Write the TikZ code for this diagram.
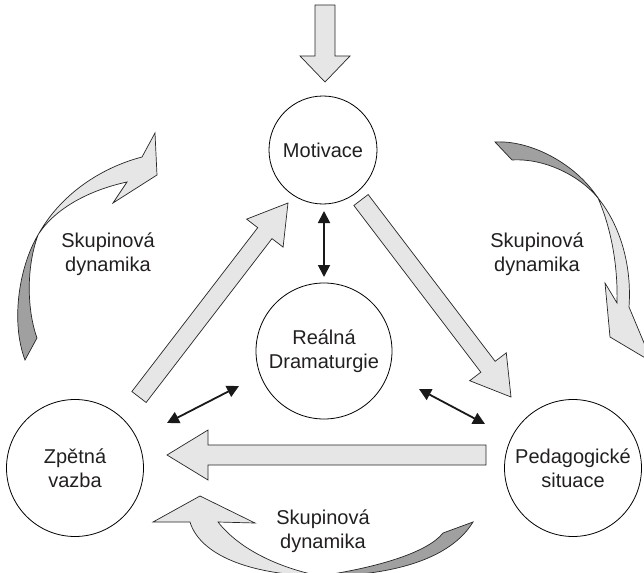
\documentclass[tikz,border=0pt]{standalone}
\usepackage{fontspec}
\setmainfont{Liberation Sans}
\usetikzlibrary{arrows.meta,calc,positioning}

\definecolor{arrowfill}{HTML}{E6E6E6}
\definecolor{backfill}{HTML}{A0A0A0}
\definecolor{txtgray}{HTML}{231F20}

\tikzset{
  phase/.style={circle,draw,line width=0.8pt,inner sep=0pt,text=txtgray,
    align=center,font=\fontsize{20}{24}\selectfont},
  grouptext/.style={text=txtgray,align=center,font=\fontsize{20}{24}\selectfont},
  blockarrow/.style={fill=arrowfill,draw=black!85,line width=0.7pt},
  ribbon/.style={fill=arrowfill,draw=black!85,line width=0.7pt},
  ribbonback/.style={fill=backfill,draw=black!85,line width=0.7pt},
  twoway/.style={{Triangle[length=12pt,width=12pt]}-{Triangle[length=12pt,width=12pt]},
    line width=1.8pt,black!90},
}

% block arrow: tail, tip, half shaft width, half head width, head length
\newcommand{\blockarrow}[5]{%
  \coordinate (ba-base) at ($(#2)!#5!(#1)$);
  \filldraw[blockarrow]
    ($(#1)!#3!90:(#2)$) -- ($(ba-base)!#3!90:(#2)$) -- ($(ba-base)!#4!90:(#2)$) -- (#2)
    -- ($(ba-base)!#4!-90:(#2)$) -- ($(ba-base)!#3!-90:(#2)$) -- ($(#1)!#3!-90:(#2)$) -- cycle;
}

\begin{document}
\begin{tikzpicture}[x=1pt,y=-1pt]
  \useasboundingbox (0,0) rectangle (644,572);
  \clip (0,0) rectangle (644,572);

  % curved group dynamics arrows
  \filldraw[ribbonback] (38,235) .. controls (20,265) and (10,320) .. (25,360)
    -- (37,338) .. controls (27,310) and (26,268) .. cycle;
  \filldraw[ribbon] (38,235) .. controls (60,195) and (100,168) .. (142,157)
    -- (155,133) -- (157,175) -- (113,203) -- (127,182)
    .. controls (90,190) and (55,208) .. cycle;

  \filldraw[ribbonback] (598,198) .. controls (575,163) and (530,140) .. (495,142)
    -- (512,160) .. controls (545,158) and (580,176) .. cycle;
  \filldraw[ribbon] (598,198) .. controls (620,225) and (632,265) .. (629,307)
    -- (652,362) -- (610,337) -- (605,283) -- (617,303)
    .. controls (618,265) and (611,228) .. cycle;

  \filldraw[ribbonback] (320,576) .. controls (380,567) and (428,552) .. (443,533)
    -- (473,522) .. controls (450,560) and (390,576) .. cycle;
  \filldraw[ribbon] (320,576) .. controls (250,575) and (200,555) .. (190,522)
    -- (153,522) -- (200,496) -- (255,523) -- (218,522)
    .. controls (240,550) and (280,568) .. cycle;

  \node[grouptext] (dyn-l) at (108,254) {Skupinová\\dynamika};
  \node[grouptext] (dyn-r) at (537,254) {Skupinová\\dynamika};
  \node[grouptext] (dyn-b) at (323,531) {Skupinová\\dynamika};

  % phases
  \node[phase,minimum size=108pt] (mot) at (323,150) {Motivace};
  \node[phase,minimum size=136pt] (real) at (324,351) {Reálná\\Dramaturgie};
  \node[phase,minimum size=137pt] (zpet) at (75,468) {Zpětná\\vazba};
  \node[phase,minimum size=137pt] (ped) at (573,468) {Pedagogické\\situace};

  % block arrows
  \coordinate (in-tail) at (325,5);
  \coordinate (in-tip) at (325,82);
  \coordinate (up-tail) at (139,397);
  \coordinate (up-tip) at (288,203);
  \coordinate (down-tail) at (361,200);
  \coordinate (down-tip) at (511,397);
  \coordinate (back-tail) at (486,455);
  \coordinate (back-tip) at (167,455);
  \blockarrow{in-tail}{in-tip}{10pt}{25pt}{26pt}
  \blockarrow{up-tail}{up-tip}{9pt}{23pt}{38pt}
  \blockarrow{down-tail}{down-tip}{9pt}{23pt}{38pt}
  \blockarrow{back-tail}{back-tip}{10pt}{25pt}{41pt}

  % links to the dramaturgy
  \coordinate (mr-a) at (324,211);
  \coordinate (mr-b) at (324,277);
  \coordinate (zr-a) at (167,423);
  \coordinate (zr-b) at (239,386);
  \coordinate (pr-a) at (419,389);
  \coordinate (pr-b) at (485,424);
  \draw[twoway] (mr-a) -- (mr-b);
  \draw[twoway] (zr-a) -- (zr-b);
  \draw[twoway] (pr-a) -- (pr-b);
\end{tikzpicture}
\end{document}
